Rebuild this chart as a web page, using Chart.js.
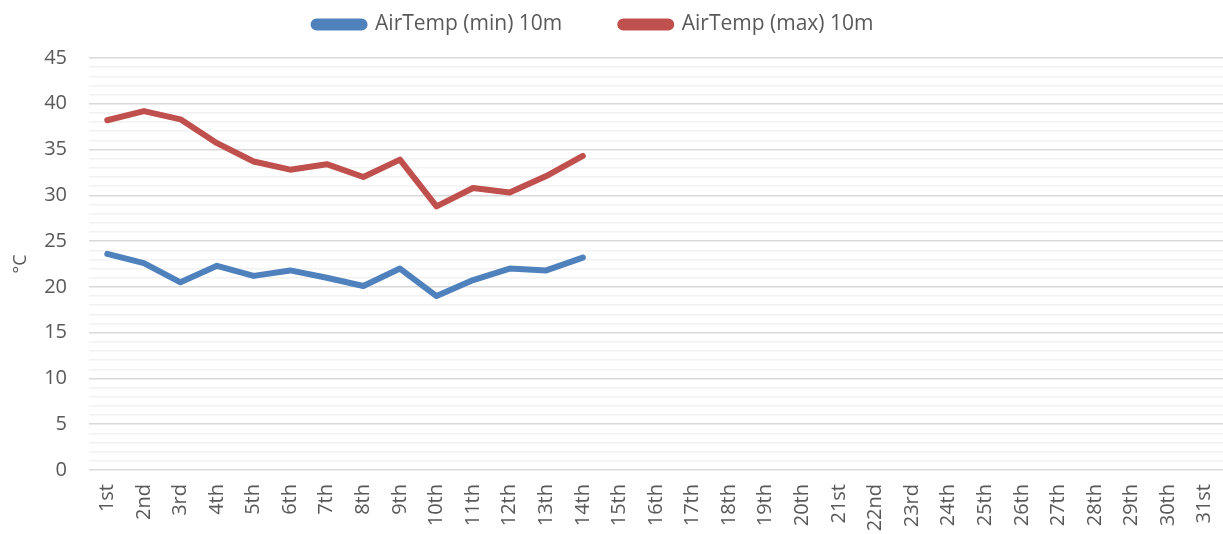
<!DOCTYPE html>
<html>
<head>
<meta charset="utf-8">
<script src="https://cdn.jsdelivr.net/npm/chart.js@4.4.1/dist/chart.umd.min.js"></script>
<style>
    html, body { margin: 0; padding: 0; background: #ffffff; }
    #wrap { width: 1223px; height: 534px; position: relative; }
</style>
</head>
<body>
<div id="wrap"><canvas id="tempChart"></canvas></div>
<script>
const days = ['1st', '2nd', '3rd', '4th', '5th', '6th', '7th', '8th', '9th', '10th',
    '11th', '12th', '13th', '14th', '15th', '16th', '17th', '18th', '19th', '20th',
    '21st', '22nd', '23rd', '24th', '25th', '26th', '27th', '28th', '29th', '30th', '31st'];

// valores (°C), dias sem dados ficam null
const minTemp = [23.6, 22.6, 20.5, 22.3, 21.2, 21.8, 21.0, 20.1, 22.0, 19.0, 20.75, 22.0, 21.8, 23.2,
    null, null, null, null, null, null, null, null, null, null, null, null, null, null, null, null, null];
const maxTemp = [38.2, 39.2, 38.3, 35.7, 33.7, 32.8, 33.4, 32.0, 33.9, 28.8, 30.8, 30.3, 32.1, 34.3,
    null, null, null, null, null, null, null, null, null, null, null, null, null, null, null, null, null];

const seriesNames = ['AirTemp (min) 10m', 'AirTemp (max) 10m'];
const yTicks = { min: 0, max: 45, major: 5, minor: 1 };

const textColor = '#595959';
const fontFamily = "'Open Sans', 'Liberation Sans', sans-serif";
const legendPad = 58;

// altura fixa da legenda e posição dos itens igual à referência
const legendPlace = {
    id: 'legendPlace',
    beforeInit(chart) {
        const fit = chart.legend.fit;
        chart.legend.fit = function () {
            fit.bind(chart.legend)();
            this.height = 58;
        };
    },
    afterLayout(chart) {
        const lg = chart.legend;
        lg.top = 14 - legendPad;
        lg.left -= 18;
        lg.right -= 18;
    }
};

document.addEventListener('DOMContentLoaded', () => {
    const ctx = document.getElementById('tempChart').getContext('2d');

    function lineSet(label, data, color) {
        return {
            label: label,
            data: data,
            borderColor: color,
            backgroundColor: color,
            borderWidth: 6,
            borderCapStyle: 'round',
            borderJoinStyle: 'round',
            pointRadius: 0,
            pointHoverRadius: 0,
            tension: 0,
            fill: false,
            spanGaps: false
        };
    }

    new Chart(ctx, {
        type: 'line',
        data: {
            labels: days,
            datasets: [
                lineSet(seriesNames[0], minTemp, '#4f81bd'),
                lineSet(seriesNames[1], maxTemp, '#c0504d')
            ]
        },
        options: {
            responsive: true,
            maintainAspectRatio: false,
            animation: false,
            layout: { padding: 0 },
            plugins: {
                tooltip: { enabled: false },
                legend: {
                    position: 'top',
                    labels: {
                        color: textColor,
                        font: { family: fontFamily, size: 21 },
                        boxWidth: 51,
                        boxHeight: 6,
                        useBorderRadius: true,
                        borderRadius: 3,
                        padding: legendPad
                    }
                }
            },
            scales: {
                x: {
                    offset: true,
                    grid: { display: false },
                    border: { display: false },
                    ticks: {
                        color: textColor,
                        font: { family: fontFamily, size: 20 },
                        maxRotation: 90,
                        minRotation: 90,
                        autoSkip: false,
                        padding: 6
                    },
                    afterFit: (scale) => {
                        scale.height = 64;
                        scale.paddingLeft = 0;
                        scale.paddingRight = 0;
                    }
                },
                y: {
                    min: yTicks.min,
                    max: yTicks.max,
                    border: { display: false },
                    grid: {
                        drawTicks: false,
                        lineWidth: 1.5,
                        color: (c) => (c.tick && c.tick.value % yTicks.major === 0) ? '#d9d9d9' : '#f2f2f2'
                    },
                    ticks: {
                        stepSize: yTicks.minor,
                        autoSkip: false,
                        color: textColor,
                        font: { family: fontFamily, size: 20 },
                        padding: 22,
                        callback: (v) => (v % yTicks.major === 0 ? v : '')
                    },
                    title: {
                        display: true,
                        text: '°C',
                        color: textColor,
                        font: { family: fontFamily, size: 18 },
                        padding: { top: 10, bottom: 0 }
                    },
                    afterFit: (scale) => {
                        scale.width = 89;
                        scale.paddingTop = 0;
                        scale.paddingBottom = 0;
                    }
                }
            }
        },
        plugins: [legendPlace]
    });
});
</script>
</body>
</html>
